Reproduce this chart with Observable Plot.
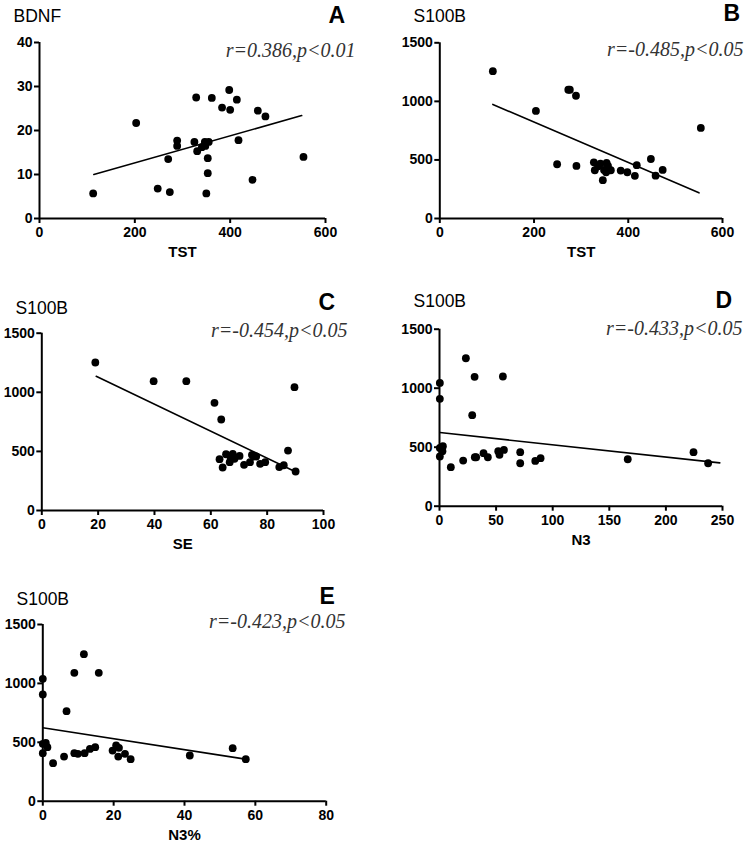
<!DOCTYPE html>
<html>
<head>
<meta charset="utf-8">
<script src="https://cdn.jsdelivr.net/npm/d3@7"></script>
<script src="https://cdn.jsdelivr.net/npm/@observablehq/plot@0.6"></script>
<style>
  html, body { margin: 0; padding: 0; background: white; }
  #root { position: relative; width: 750px; height: 844px; background: white; overflow: hidden; }
  #root > svg { position: absolute; }
</style>
</head>
<body>
<div id="root"></div>
<script>
// ---- Panel A: BDNF vs TST ----
const A_TST  = [112.6, 202.8, 248, 270, 273.4, 288.8, 288.8, 328.7, 325, 330.8, 340.6, 346.9, 348, 355, 353, 353, 350, 361.5, 383, 398, 400, 414, 417.5, 446.9, 458, 474, 553.8];
const A_BDNF = [5.7, 21.7, 6.8, 13.5, 6.0, 17.7, 16.5, 27.5, 17.4, 15.3, 16.2, 17.4, 16.5, 17.4, 13.7, 10.3, 5.7, 27.4, 25.2, 29.2, 24.7, 27.0, 17.8, 8.8, 24.5, 23.2, 14.0];
const A_fitX = [114, 550];
const A_fitY = [10.0, 23.4];

// ---- Panel B: S100B vs TST ----
const B_TST   = [112.6, 204, 249, 272.7, 276, 289, 290, 327, 329, 336, 341, 346, 348.5, 354, 353, 357, 363, 384, 398, 414, 418, 448, 458, 473, 554];
const B_S100B = [1258, 918, 463, 1099, 1099, 1048, 449, 480, 412, 446, 469, 327, 415, 474, 395, 449, 412, 409, 395, 364, 455, 508, 366, 415, 773];
const B_fitX = [112.6, 550];
const B_fitY = [974, 219];

// ---- Panel C: S100B vs SE ----
const C_SE    = [19.0, 39.7, 51.3, 61.3, 63.7, 63.1, 64.2, 65.4, 66.7, 66.9, 67.8, 68.4, 70.2, 71.8, 73.9, 74.6, 75.2, 76.1, 77.5, 79.3, 84.3, 85.9, 87.4, 89.7, 90.1];
const C_S100B = [1252, 1094, 1094, 911, 770, 434, 364, 476, 409, 459, 479, 437, 462, 386, 409, 471, 457, 457, 395, 409, 367, 383, 507, 1043, 330];
const C_fitX = [19.3, 89.1];
const C_fitY = [1136, 338];

// ---- Panel D: S100B vs N3 ----
const D_N3    = [0.3, 0.3, 0.3, 0.3, 3, 2.6, 10, 20.9, 23.3, 28.9, 31, 31.2, 32.4, 38.9, 42.7, 51.9, 53, 56, 56.9, 71.3, 71.3, 84.6, 89.3, 166.3, 224.4, 237.3];
const D_S100B = [1045, 910, 494, 421, 508, 466, 331, 387, 1254, 771, 1096, 415, 415, 449, 415, 466, 435, 1099, 477, 458, 364, 384, 407, 398, 458, 364];
const D_fitX = [0.3, 247.6];
const D_fitY = [624, 367];

// ---- Panel E: S100B vs N3% ----
const E_N3pct = [0, 0, 0, 0, 0.85, 1.3, 2.9, 6.0, 6.7, 8.9, 8.9, 9.9, 11.6, 11.8, 13.3, 14.8, 15.8, 19.7, 20.7, 21.5, 21.3, 23.2, 24.8, 41.5, 53.6, 57.3];
const E_S100B = [1039, 906, 487, 408, 495, 459, 323, 379, 764, 1090, 408, 402, 1248, 408, 444, 459, 1090, 430, 473, 453, 379, 402, 357, 388, 450, 357];
const E_fitX = [0, 57.2];
const E_fitY = [623, 357];

// ---- Texts and ticks ----
const titles   = ["BDNF", "S100B", "S100B", "S100B", "S100B"];
const letters  = ["A", "B", "C", "D", "E"];
const stats    = ["r=0.386,p<0.01", "r=-0.485,p<0.05", "r=-0.454,p<0.05", "r=-0.433,p<0.05", "r=-0.423,p<0.05"];
const xLabels  = ["TST", "TST", "SE", "N3", "N3%"];
const xTicksTST = [0, 200, 400, 600];
const xTicksSE  = [0, 20, 40, 60, 80, 100];
const xTicksN3  = [0, 50, 100, 150, 200, 250];
const xTicksPct = [0, 20, 40, 60, 80];
const yTicksBDNF  = [0, 10, 20, 30, 40];
const yTicksS100B = [0, 500, 1000, 1500];

const zip = (xs, ys) => xs.map((x, i) => ({x, y: ys[i]}));

// layout (pixel geometry of each panel)
const panels = [
  {i: 0, left: 0,   top: 0,   w: 375, h: 280, mL: 39,   mR: 50,   mT: 42,   mB: 62,
   xd: [0, 600], xt: xTicksTST, yd: [0, 40], yt: yTicksBDNF, pts: zip(A_TST, A_BDNF), fit: zip(A_fitX, A_fitY),
   tX: 13, tY: 15.5, lX: 328, lY: 15, rX: 355, rY: 50},
  {i: 1, left: 375, top: 0,   w: 375, h: 280, mL: 64.3, mR: 28,   mT: 42.3, mB: 62,
   xd: [0, 600], xt: xTicksTST, yd: [0, 1500], yt: yTicksS100B, pts: zip(B_TST, B_S100B), fit: zip(B_fitX, B_fitY),
   tX: 38, tY: 16, lX: 348, lY: 13.5, rX: 368, rY: 49},
  {i: 2, left: 0,   top: 280, w: 375, h: 280, mL: 41.3, mR: 52,   mT: 52.7, mB: 50,
   xd: [0, 100], xt: xTicksSE, yd: [0, 1500], yt: yTicksS100B, pts: zip(C_SE, C_S100B), fit: zip(C_fitX, C_fitY),
   tX: 15, tY: 27.5, lX: 318, lY: 22.5, rX: 347, rY: 50},
  {i: 3, left: 375, top: 280, w: 375, h: 280, mL: 64,   mR: 28,   mT: 48.7, mB: 54.3,
   xd: [0, 250], xt: xTicksN3, yd: [0, 1500], yt: yTicksS100B, pts: zip(D_N3, D_S100B), fit: zip(D_fitX, D_fitY),
   tX: 38, tY: 21, lX: 340, lY: 20.5, rX: 367, rY: 48},
  {i: 4, left: 0,   top: 560, w: 375, h: 284, mL: 42.3, mR: 49.3, mT: 64,   mB: 43.3,
   xd: [0, 80], xt: xTicksPct, yd: [0, 1500], yt: yTicksS100B, pts: zip(E_N3pct, E_S100B), fit: zip(E_fitX, E_fitY),
   tX: 16, tY: 39, lX: 319, lY: 36.5, rX: 345, rY: 61}
];

const root = document.getElementById("root");
const sans = "'Liberation Sans', Arial, Helvetica, sans-serif";
const serif = "'Liberation Serif', 'Times New Roman', serif";

for (const p of panels) {
  const fig = Plot.plot({
    width: p.w, height: p.h,
    marginLeft: p.mL, marginRight: p.mR, marginTop: p.mT, marginBottom: p.mB,
    x: {domain: p.xd},
    y: {domain: p.yd},
    style: {fontFamily: sans, color: "black", background: "white", overflow: "visible"},
    marks: [
      Plot.axisX({ticks: p.xt, tickSize: 5, tickPadding: 4, strokeWidth: 2, fontSize: 14, fontWeight: "bold", label: null, tickFormat: d => String(d)}),
      Plot.axisY({ticks: p.yt, tickSize: 5, tickPadding: 2, strokeWidth: 2, fontSize: 14, fontWeight: "bold", label: null, tickFormat: d => String(d)}),
      Plot.ruleX([p.xd[0]], {stroke: "black", strokeWidth: 2}),
      Plot.ruleY([p.yd[0]], {stroke: "black", strokeWidth: 2}),
      Plot.line(p.fit, {x: "x", y: "y", stroke: "black", strokeWidth: 1.6}),
      Plot.dot(p.pts, {x: "x", y: "y", r: 3.9, fill: "black", stroke: "none"}),
      Plot.text([titles[p.i]], {text: d => d, frameAnchor: "top-left", dx: p.tX - p.mL, dy: p.tY - p.mT,
        textAnchor: "start", lineAnchor: "middle", fontSize: 17.5, fontWeight: "normal", fill: "black"}),
      Plot.text([letters[p.i]], {text: d => d, frameAnchor: "top-left", dx: p.lX - p.mL, dy: p.lY - p.mT,
        textAnchor: "start", lineAnchor: "middle", fontSize: 23, fontWeight: "bold", fill: "black"}),
      Plot.text([stats[p.i]], {text: d => d, frameAnchor: "top-right", dx: p.rX - (p.w - p.mR), dy: p.rY - p.mT,
        textAnchor: "end", lineAnchor: "middle", fontSize: 20, fontStyle: "italic", fontFamily: serif, fill: "#333"}),
      Plot.text([xLabels[p.i]], {text: d => d, frameAnchor: "bottom", dy: 34,
        textAnchor: "middle", lineAnchor: "middle", fontSize: 15, fontWeight: "bold", fill: "black"})
    ]
  });
  fig.style.left = p.left + "px";
  fig.style.top = p.top + "px";
  root.appendChild(fig);
}
</script>
</body>
</html>
